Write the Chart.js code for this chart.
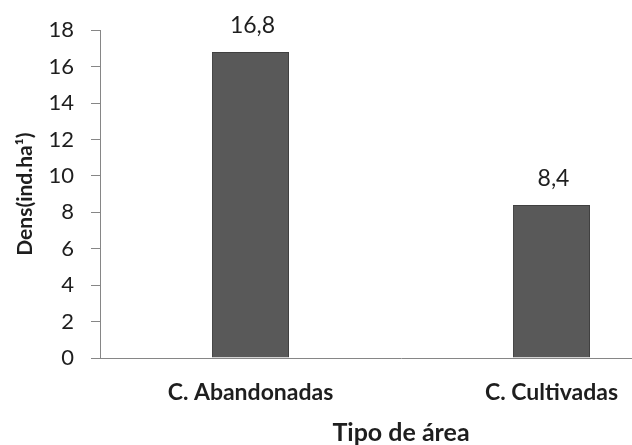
<!DOCTYPE html>
<html><head><meta charset="utf-8">
<script src="https://cdn.jsdelivr.net/npm/chart.js@4/dist/chart.umd.min.js"></script>
<style>
html,body{margin:0;padding:0;background:#fff;overflow:hidden;width:632px;height:445px;}
#wrap{position:absolute;left:0;top:0;width:704px;height:445px;}
</style></head><body>
<div id="wrap"><canvas id="c"></canvas></div>
<script>
const categories = ["C. Abandonadas", "C. Cultivadas"];
const densValues = [16.8, 8.4];
const valueLabels = ["16,8", "8,4"];
const yTicks = [0, 2, 4, 6, 8, 10, 12, 14, 16, 18];

const FONT = "Lato, 'Open Sans', sans-serif";
const axisColor = "#868686";
const textColor = "#1e1e1e";

const valueLabelPlugin = {
  id: "valueLabels",
  afterDatasetsDraw(chart) {
    const ctx = chart.ctx;
    const meta = chart.getDatasetMeta(0);
    ctx.save();
    ctx.font = "23px " + FONT;
    ctx.fillStyle = textColor;
    ctx.textAlign = "center";
    ctx.textBaseline = "middle";
    meta.data.forEach((bar, i) => {
      ctx.fillText(valueLabels[i], bar.x + 2, bar.y - 26);
    });
    ctx.restore();
  }
};

new Chart(document.getElementById("c"), {
  type: "bar",
  data: {
    labels: categories,
    datasets: [{
      data: densValues,
      backgroundColor: "#595959",
      borderColor: "#404040",
      borderWidth: 1,
      barPercentage: 0.256,
      categoryPercentage: 1
    }]
  },
  options: {
    responsive: true,
    maintainAspectRatio: false,
    animation: false,
    layout: { padding: { top: 29, right: 2, left: 0, bottom: 0 } },
    plugins: { legend: { display: false }, tooltip: { enabled: false } },
    scales: {
      x: {
        grid: { display: false, drawTicks: false },
        border: { color: axisColor, width: 1 },
        ticks: { color: textColor, font: { family: FONT, size: 23, weight: "bold" }, padding: 21 },
        title: { display: true, text: "Tipo de área", color: textColor,
                 font: { family: FONT, size: 25, weight: "bold", lineHeight: 1.0 }, padding: { top: 4, bottom: 0 } },
        afterFit(scale) { scale.height = 87; }
      },
      y: {
        min: 0, max: 18,
        afterBuildTicks(scale) { scale.ticks = yTicks.map(v => ({ value: v })); },
        grid: { drawOnChartArea: false, drawTicks: true, tickLength: 9, color: axisColor },
        border: { color: axisColor, width: 1 },
        ticks: { color: textColor, font: { family: FONT, size: 22 }, padding: 17 },
        title: { display: true, text: "Dens(ind.ha¹)", color: textColor,
                 font: { family: FONT, size: 21, weight: "bold" }, padding: { top: 13, bottom: 0 } },
        afterFit(scale) { scale.width = 100; }
      }
    }
  },
  plugins: [valueLabelPlugin]
});
</script>
</body></html>
